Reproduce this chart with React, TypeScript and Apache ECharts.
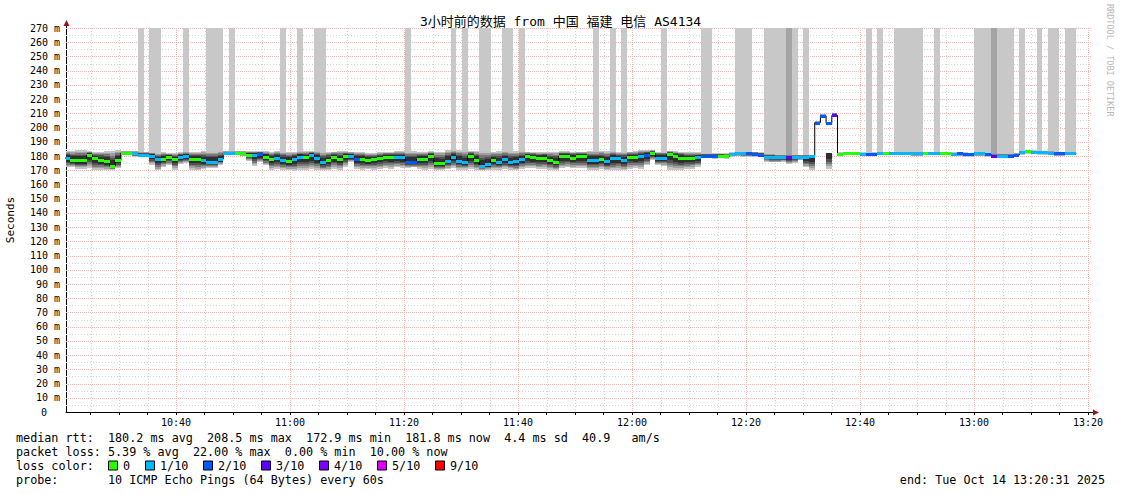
import { useEffect, useRef } from 'react';
import * as echarts from 'echarts';

const MONO = '"DejaVu Sans Mono", "Noto Sans CJK SC", monospace';

const TITLE = '3小时前的数据 from 中国 福建 电信 AS4134';
const Y_AXIS_NAME = 'Seconds';
const WATERMARK = 'RRDTOOL / TOBI OETIKER';

// time axis in minutes after 10:00
const X_START = 20.7;
const X_END = 200.7;
const Y_MAX = 270;
// RRD step timing (minutes after 10:00 of first step, step length in minutes)
const STEP_START = 20.36;
const STEP_MIN = 0.9977;

const xLabelMinutes = [40, 60, 80, 100, 120, 140, 160, 180, 200];
const xMinorMinutes = [25, 30, 35, 45, 50, 55, 65, 70, 75, 85, 90, 95, 105, 110, 115, 125, 130, 135, 145, 150, 155, 165, 170, 175, 185, 190, 195];

// median rtt (ms) per step
const median = [
  178.6, 177.5, 177.2, 177.2, 180.7, 178.4, 177.4, 176.5, 172.9, 177.0,
  182.3, 182.3, 181.8, 180.7, 180.7, 180.3, 177.9, 177.9, 179.5, 177.9,
  179.3, 180.2, 177.9, 177.9, 177.0, 176.1, 176.1, 177.8, 182.1, 182.1,
  182.1, 182.1, 181.0, 180.7, 181.2, 179.5, 177.9, 178.6, 177.2, 176.5,
  177.9, 179.5, 179.3, 180.7, 178.6, 175.8, 177.2, 179.5, 177.9, 180.0,
  180.0, 177.9, 177.9, 177.0, 177.9, 178.7, 179.4, 179.4, 179.1, 179.0,
  176.0, 176.0, 177.7, 177.7, 180.0, 175.3, 174.8, 176.8, 179.4, 176.8,
  175.5, 180.3, 177.3, 173.3, 174.3, 177.0, 175.7, 177.7, 175.7, 176.2,
  178.0, 179.9, 179.2, 178.6, 178.8, 177.0, 175.8, 179.9, 179.9, 178.9,
  179.8, 179.8, 177.3, 177.2, 177.9, 176.4, 178.5, 178.4, 177.3, 179.6,
  179.0, 179.8, 180.8, 182.0, 178.9, 178.9, 181.3, 180.0, 178.9, 178.5,
  178.9, 179.0, 180.3, 180.3, 180.3, 180.3, 179.8, 181.5, 182.3, 182.0,
  181.8, 181.5, 181.0, 179.5, 179.5, 179.3, 179.3, 179.0, 179.3, 179.3,
  179.5, 179.8, 203.5, 208.2, 203.0, 208.5, 181.7, 182.2, 181.8, 181.8,
  181.6, 181.6, 181.6, 181.8, 181.8, 182.0, 182.0, 182.0, 181.8, 181.8,
  181.8, 181.9, 181.9, 181.9, 182.0, 181.8, 181.7, 181.8, 181.3, 181.3,
  181.8, 181.8, 181.3, 180.3, 180.1, 180.1, 180.1, 180.8, 182.6, 183.3,
  183.0, 182.5, 182.5, 182.2, 181.8, 181.8, 181.8, 181.8,
];

// lost pings out of 10 (median colour class)
const lossColor = [
  1, 0, 0, 0, 0, 0, 0, 0, 0, 0,
  0, 0, 1, 1, 1, 1, 1, 0, 0, 0,
  1, 1, 0, 0, 1, 1, 1, 1, 1, 1,
  0, 0, 0, 1, 2, 0, 0, 1, 1, 0,
  1, 1, 0, 1, 1, 1, 0, 0, 0, 0,
  1, 2, 0, 0, 0, 0, 0, 0, 1, 1,
  2, 2, 0, 0, 0, 0, 0, 1, 1, 1,
  1, 0, 0, 1, 1, 0, 1, 1, 1, 1,
  1, 0, 0, 0, 0, 0, 0, 0, 0, 0,
  0, 0, 1, 1, 0, 1, 1, 1, 1, 0,
  0, 1, 2, 0, 1, 1, 0, 0, 0, 0,
  0, 1, 2, 2, 2, 0, 0, 1, 1, 1,
  2, 2, 2, 1, 1, 1, 1, 3, 1, 1,
  1, 1, 2, 2, 2, 3, 0, 0, 0, 0,
  1, 2, 2, 1, 0, 1, 1, 1, 1, 1,
  1, 0, 1, 1, 0, 0, 1, 2, 2, 2,
  1, 1, 2, 3, 1, 1, 2, 2, 1, 0,
  1, 1, 1, 1, 2, 2, 1, 1,
];

// smoke layers that run to the top (lost pings in the smoke)
const lostPings = [
  0, 0, 0, 0, 0, 0, 0, 0, 0, 0,
  0, 0, 0, 1, 0, 1, 1, 0, 0, 0,
  0, 1, 0, 0, 0, 1, 1, 1, 0, 1,
  0, 0, 0, 0, 0, 0, 0, 0, 1, 0,
  0, 1, 0, 0, 1, 1, 0, 0, 0, 0,
  0, 0, 0, 0, 0, 0, 0, 0, 0, 0,
  1, 0, 0, 0, 0, 0, 0, 0, 1, 0,
  1, 0, 0, 1, 1, 0, 0, 1, 1, 0,
  1, 0, 0, 0, 0, 0, 0, 0, 0, 0,
  0, 0, 0, 1, 0, 0, 1, 0, 1, 0,
  0, 0, 0, 0, 0, 1, 0, 0, 0, 0,
  0, 0, 1, 1, 0, 0, 0, 0, 1, 1,
  1, 0, 0, 1, 1, 1, 1, 2, 1, 0,
  1, 0, 0, 0, 0, 0, 0, 0, 0, 0,
  0, 1, 0, 1, 0, 0, 1, 1, 1, 1,
  1, 0, 0, 1, 0, 0, 0, 0, 0, 0,
  1, 1, 1, 2, 1, 1, 1, 0, 1, 0,
  0, 1, 0, 1, 1, 0, 1, 1,
];

// fastest ping per step (ms)
const smokeLo = [
  172.0, 172.0, 171.0, 171.0, 171.5, 170.0, 170.5, 170.0, 170.3, 171.5,
  180.5, 180.5, 179.5, 179.0, 179.0, 174.0, 170.0, 172.5, 173.5, 170.5,
  174.5, 175.0, 170.5, 170.0, 171.0, 171.5, 171.5, 173.5, 180.5, 180.5,
  180.5, 180.0, 176.5, 173.0, 175.5, 173.5, 170.5, 171.0, 170.5, 170.0,
  169.5, 170.5, 170.5, 171.0, 170.5, 170.0, 170.0, 171.0, 170.5, 172.5,
  175.5, 171.0, 170.5, 171.0, 170.5, 171.0, 171.5, 171.0, 172.0, 171.5,
  171.5, 172.0, 171.0, 170.5, 171.0, 170.0, 170.0, 171.0, 171.5, 170.5,
  170.5, 171.0, 170.5, 170.0, 170.0, 170.5, 170.5, 171.0, 170.5, 170.0,
  171.0, 171.5, 171.5, 171.0, 171.0, 170.5, 170.0, 171.5, 172.0, 171.5,
  171.5, 171.5, 170.5, 170.5, 171.0, 170.0, 170.0, 170.5, 170.0, 171.0,
  171.5, 171.0, 173.5, 177.5, 173.5, 173.0, 170.5, 170.0, 170.0, 171.0,
  171.0, 172.5, 178.5, 178.5, 178.0, 178.5, 178.0, 179.5, 180.0, 179.5,
  179.5, 179.5, 179.0, 176.0, 175.5, 175.5, 176.0, 174.5, 175.0, 177.0,
  172.0, 170.5, 201.5, 206.5, 171.0, 207.5, 180.5, 181.0, 180.5, 180.5,
  180.5, 180.0, 180.0, 180.5, 180.5, 180.5, 180.5, 180.5, 180.5, 180.0,
  180.0, 180.5, 180.5, 180.5, 180.5, 180.5, 180.5, 180.0, 179.5, 179.5,
  180.0, 180.0, 179.5, 179.0, 179.0, 179.0, 179.0, 179.5, 181.0, 181.5,
  181.5, 181.0, 181.0, 180.5, 180.0, 180.0, 180.5, 180.5,
];

// slowest ping per step (ms)
const smokeHi = [
  183.5, 183.5, 184.0, 184.0, 183.5, 182.5, 183.0, 183.5, 183.5, 184.0,
  183.5, 183.5, 183.5, 183.0, 183.0, 182.5, 182.0, 182.5, 182.0, 182.0,
  182.5, 183.0, 183.0, 183.0, 183.5, 183.5, 183.5, 183.5, 183.5, 183.5,
  183.5, 183.5, 183.5, 183.5, 183.5, 183.5, 183.0, 183.5, 183.0, 183.0,
  183.0, 183.5, 183.5, 183.5, 183.5, 183.0, 183.0, 183.0, 183.5, 183.5,
  183.0, 182.5, 182.5, 182.0, 182.0, 182.5, 183.0, 183.0, 183.5, 183.5,
  183.5, 183.5, 183.0, 183.0, 183.5, 183.0, 183.0, 184.0, 184.0, 184.0,
  184.0, 183.5, 183.5, 183.5, 183.5, 183.0, 183.5, 183.5, 183.5, 183.5,
  183.5, 183.0, 183.0, 183.0, 183.0, 183.0, 183.0, 183.5, 183.5, 183.0,
  183.0, 183.0, 183.5, 183.5, 183.5, 183.5, 183.5, 183.0, 183.0, 183.0,
  183.5, 184.0, 184.0, 184.5, 183.0, 183.0, 183.5, 183.5, 183.0, 182.5,
  182.5, 182.5, 182.0, 182.0, 182.0, 182.0, 182.0, 182.5, 183.0, 183.0,
  183.0, 183.0, 182.5, 181.5, 181.5, 181.0, 181.0, 181.0, 181.0, 181.0,
  181.0, 181.0, 204.5, 209.5, 182.0, 210.5, 182.5, 183.0, 182.5, 182.5,
  182.5, 182.5, 182.5, 182.5, 182.5, 183.0, 183.0, 183.0, 182.5, 182.5,
  182.5, 182.5, 182.5, 182.5, 182.5, 182.5, 182.5, 182.5, 182.5, 182.0,
  182.5, 182.5, 182.0, 181.5, 181.5, 181.5, 181.5, 182.0, 183.5, 184.0,
  184.0, 183.5, 183.5, 183.5, 183.0, 183.0, 182.5, 182.5,
];

const LOSS_COLORS = ['#26ff00', '#00b8ff', '#0059ff', '#5e00ff', '#7e00ff', '#dd00ff', '#ff0000'];
const legendLossLabels = ['0', '1/10', '2/10', '3/10', '4/10', '5/10', '9/10'];

const statLines = [
  'median rtt:  180.2 ms avg  208.5 ms max  172.9 ms min  181.8 ms now  4.4 ms sd  40.9   am/s',
  'packet loss: 5.39 % avg  22.00 % max  0.00 % min  10.00 % now',
];
const probeLine = 'probe:       10 ICMP Echo Pings (64 Bytes) every 60s';
const lossColorLabel = 'loss color:';
const endLine = 'end: Tue Oct 14 13:20:31 2025';

const SMOKE_LAYERS = [
  { f: 0, color: '#c4c4c4' },
  { f: 0.15, color: '#a0a0a0' },
  { f: 0.3, color: '#787878' },
  { f: 0.45, color: '#525252' },
  { f: 0.6, color: '#2e2e2e' },
];

const MAJOR_GRID = '#f6b4b4';
const MINOR_GRID = '#d4d4d4';

function pad2(n: number) {
  return n < 10 ? '0' + n : String(n);
}
function fmtTime(v: number) {
  const total = 10 * 60 + Math.round(v);
  return `${Math.floor(total / 60)}:${pad2(total % 60)}`;
}

function segments(line: string) {
  const out: { text: string; col: number }[] = [];
  const re = /\S+(?: \S+)*/g;
  let m: RegExpExecArray | null;
  while ((m = re.exec(line))) out.push({ text: m[0], col: m.index });
  return out;
}

export default function App() {
  const ref = useRef<HTMLDivElement>(null);

  useEffect(() => {
    if (!ref.current) return;
    const chart = echarts.init(ref.current, undefined, { renderer: 'svg' });

    const gridData: number[][] = [];
    xMinorMinutes.forEach((m) => gridData.push([0, m, 0]));
    for (let v = 5; v <= Y_MAX; v += 10) gridData.push([1, v, 0]);
    xLabelMinutes.forEach((m) => gridData.push([0, m, 1]));
    for (let v = 10; v <= Y_MAX; v += 10) gridData.push([1, v, 1]);

    const smokeData = median.map((m, k) => [k, smokeLo[k], smokeHi[k], m, lostPings[k]]);
    const medData = median.map((m, k) => [k, m, lossColor[k]]);
    const lineData = median.map((m, k) => [STEP_START + k * STEP_MIN, m]);
    lineData.push([STEP_START + median.length * STEP_MIN, median[median.length - 1]]);

    const CW = 7.075;
    const LX = 16;
    const rowY = [437.5, 451.5, 465.5, 480];
    const textStyle = (extra: any) => ({ fontFamily: MONO, fontSize: 11.75, fill: '#000', ...extra });

    const graphics: any[] = [];
    statLines.forEach((line, i) => {
      segments(line).forEach((s) =>
        graphics.push({ type: 'text', x: LX + s.col * CW, y: rowY[i], style: textStyle({ text: s.text, verticalAlign: 'middle' }) })
      );
    });
    graphics.push({ type: 'text', x: LX, y: rowY[2], style: textStyle({ text: lossColorLabel, verticalAlign: 'middle' }) });
    const boxX = [108, 145, 203, 261, 319, 377, 435];
    legendLossLabels.forEach((lab, i) => {
      graphics.push({
        type: 'rect',
        shape: { x: boxX[i] + 0.5, y: rowY[2] - 4.5, width: 9, height: 9 },
        style: { fill: LOSS_COLORS[i], stroke: '#000', lineWidth: 1 },
      });
      graphics.push({ type: 'text', x: boxX[i] + 15, y: rowY[2], style: textStyle({ text: lab, verticalAlign: 'middle' }) });
    });
    segments(probeLine).forEach((s) =>
      graphics.push({ type: 'text', x: LX + s.col * CW, y: rowY[3], style: textStyle({ text: s.text, verticalAlign: 'middle' }) })
    );
    graphics.push({ type: 'text', x: 1105, y: rowY[3], style: textStyle({ text: endLine, align: 'right', verticalAlign: 'middle' }) });

    graphics.push({ type: 'text', x: 560.5, y: 21, style: { text: TITLE, fontFamily: MONO, fontSize: 13, fill: '#000', align: 'center', verticalAlign: 'middle' } });
    graphics.push({ type: 'text', x: 10, y: 220, rotation: Math.PI / 2, style: { text: Y_AXIS_NAME, fontFamily: MONO, fontSize: 11, fill: '#000', align: 'center', verticalAlign: 'middle' } });
    graphics.push({ type: 'text', x: 1110, y: 4, rotation: -Math.PI / 2, style: { text: WATERMARK, fontFamily: MONO, fontSize: 8.5, fill: '#b8b8b8', align: 'left', verticalAlign: 'middle' } });
    // axis arrows
    graphics.push({ type: 'line', shape: { x1: 66.5, y1: 28, x2: 66.5, y2: 22 }, style: { stroke: '#000', lineWidth: 1 } });
    graphics.push({ type: 'polygon', shape: { points: [[63.5, 26], [69.5, 26], [66.5, 20]] }, style: { fill: '#8b1a1a' } });
    graphics.push({ type: 'line', shape: { x1: 1092, y1: 412.5, x2: 1094, y2: 412.5 }, style: { stroke: '#000', lineWidth: 1 } });
    graphics.push({ type: 'polygon', shape: { points: [[1093, 409.5], [1093, 415.5], [1099, 412.5]] }, style: { fill: '#8b1a1a' } });

    chart.setOption({
      animation: false,
      backgroundColor: '#fff',
      grid: { left: 66, top: 28, width: 1026, height: 384, containLabel: false },
      xAxis: {
        type: 'value',
        min: X_START,
        max: X_END,
        axisLine: { show: true, lineStyle: { color: '#000', width: 1 } },
        axisTick: { show: true, customValues: [...xMinorMinutes, ...xLabelMinutes], length: 3, lineStyle: { color: '#000' } },
        axisLabel: {
          customValues: xLabelMinutes,
          formatter: (v: number) => fmtTime(v),
          fontFamily: MONO,
          fontSize: 10,
          color: '#000',
          margin: 5,
        },
        splitLine: { show: false },
      },
      yAxis: {
        type: 'value',
        min: 0,
        max: Y_MAX,
        interval: 10,
        axisLine: { show: true, lineStyle: { color: '#000', width: 1 } },
        axisTick: { show: false },
        axisLabel: {
          fontFamily: MONO,
          fontSize: 10,
          color: '#000',
          margin: 6,
          formatter: (v: number) => (v === 0 ? '{z|0}' : `${v} m`),
          rich: { z: { fontFamily: MONO, fontSize: 10, color: '#000', padding: [0, 13, 0, 0] } },
        },
        splitLine: { show: false },
      },
      graphic: graphics,
      series: [
        {
          type: 'custom',
          name: 'grid',
          clip: true,
          z: 1,
          silent: true,
          data: gridData,
          renderItem: (params: any, api: any) => {
            const kind = api.value(0);
            const v = api.value(1);
            const major = api.value(2);
            const stroke = major ? MAJOR_GRID : MINOR_GRID;
            const dash = major ? [1, 1] : [1, 2];
            if (kind === 0) {
              const x = Math.round(api.coord([v, 0])[0]) + 0.5;
              const yB = api.coord([v, 0])[1];
              const yT = api.coord([v, Y_MAX])[1];
              return { type: 'line', shape: { x1: x, y1: yT, x2: x, y2: yB }, style: { stroke, lineWidth: 1, lineDash: dash } };
            }
            const y = Math.round(api.coord([X_START, v])[1]) + 0.5;
            const xL = api.coord([X_START, v])[0];
            const xR = api.coord([X_END, v])[0];
            return { type: 'line', shape: { x1: xL, y1: y, x2: xR, y2: y }, style: { stroke, lineWidth: 1, lineDash: dash } };
          },
        },
        {
          type: 'custom',
          name: 'smoke',
          clip: true,
          z: 2,
          silent: true,
          data: smokeData,
          renderItem: (params: any, api: any) => {
            const k = api.value(0);
            const lo = api.value(1);
            const hi = api.value(2);
            const med = api.value(3);
            const lost = api.value(4);
            const tA = STEP_START + k * STEP_MIN;
            const tB = tA + STEP_MIN;
            const xA = Math.round(api.coord([tA, 0])[0]);
            const xB = Math.round(api.coord([tB, 0])[0]);
            const w = xB - xA;
            const yOf = (v: number) => Math.round(api.coord([tA, v])[1]);
            const children: any[] = [];
            if (lost > 0) {
              const yTop = yOf(Y_MAX);
              children.push({
                type: 'rect',
                shape: { x: xA, y: yTop, width: w, height: yOf(hi) - yTop },
                style: { fill: lost > 1 ? '#a4a4a4' : '#c8c8c8' },
              });
            }
            const m = Math.min(Math.max(med, lo), hi);
            SMOKE_LAYERS.forEach(({ f, color }) => {
              const a = lo + (m - lo) * f;
              const b = hi - (hi - m) * f;
              const ya = yOf(a);
              const yb = yOf(b);
              if (ya - yb > 0) children.push({ type: 'rect', shape: { x: xA, y: yb, width: w, height: ya - yb }, style: { fill: color } });
            });
            return { type: 'group', children };
          },
        },
        {
          type: 'line',
          name: 'median rtt',
          step: 'end',
          z: 4,
          silent: true,
          symbol: 'none',
          data: lineData,
          lineStyle: { color: '#000', width: 1 },
        },
        {
          type: 'custom',
          name: 'loss color',
          clip: true,
          z: 5,
          silent: true,
          data: medData,
          renderItem: (params: any, api: any) => {
            const k = api.value(0);
            const m = api.value(1);
            const c = api.value(2);
            const tA = STEP_START + k * STEP_MIN;
            const xA = Math.round(api.coord([tA, 0])[0]);
            const xB = Math.round(api.coord([tA + STEP_MIN, 0])[0]);
            const y = Math.round(api.coord([tA, m])[1]);
            return { type: 'rect', shape: { x: xA, y: y - 1, width: xB - xA, height: 3 }, style: { fill: LOSS_COLORS[c] } };
          },
        },
      ],
    });

    return () => chart.dispose();
  }, []);

  return (
    <div
      ref={ref}
      style={{ position: 'fixed', left: 0, top: 0, width: 1121, height: 494, background: '#fff' }}
    />
  );
}
